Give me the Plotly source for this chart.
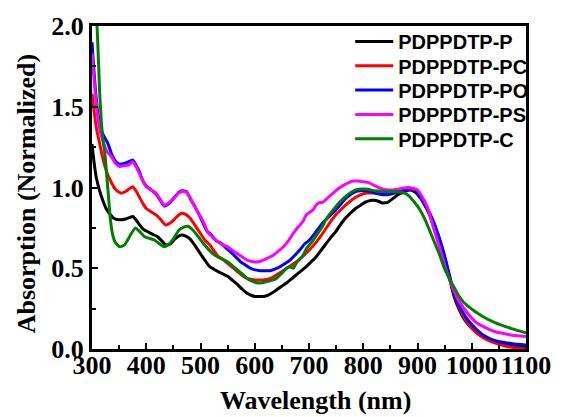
import plotly.graph_objects as go

# ---- data ----
names = ["PDPPDTP-P", "PDPPDTP-PC", "PDPPDTP-PO", "PDPPDTP-PS", "PDPPDTP-C"]
colors = ["#000000", "#ff0000", "#0000ff", "#ff00ff", "#008000"]

wl_P = [300, 304, 308, 314, 320, 326, 332, 340, 350, 362, 370, 375, 381, 388, 395, 403, 412, 421, 430, 436,
        444, 451, 460, 466, 472, 481, 490, 499, 508, 517, 532, 550, 559, 568, 577, 586, 595, 604, 613, 622,
        631, 640, 650, 659, 668, 677, 686, 695, 704, 713, 722, 731, 740, 749, 758, 767, 776, 786, 795, 804,
        813, 822, 828, 834, 840, 846, 852, 858, 864, 870, 876, 885, 894, 903, 912, 921, 930, 940, 949, 958,
        967, 976, 985, 994, 1003, 1012, 1021, 1033, 1045, 1060, 1075, 1100]
abs_P = [1.27, 1.15, 1.06, 0.98, 0.92, 0.87, 0.84, 0.81, 0.80, 0.805, 0.815, 0.82, 0.80, 0.768, 0.74, 0.726, 0.71, 0.695, 0.665, 0.644,
         0.65, 0.675, 0.70, 0.706, 0.70, 0.68, 0.64, 0.594, 0.55, 0.51, 0.48, 0.45, 0.425, 0.40, 0.37, 0.345, 0.33, 0.325, 0.325, 0.33,
         0.345, 0.365, 0.39, 0.41, 0.435, 0.46, 0.485, 0.51, 0.54, 0.57, 0.61, 0.65, 0.69, 0.725, 0.77, 0.81, 0.84, 0.87, 0.89, 0.91,
         0.92, 0.92, 0.915, 0.905, 0.905, 0.91, 0.925, 0.94, 0.955, 0.965, 0.975, 0.985, 0.975, 0.945, 0.90, 0.84, 0.76, 0.67, 0.575, 0.45,
         0.33, 0.25, 0.19, 0.15, 0.12, 0.095, 0.075, 0.055, 0.04, 0.03, 0.02, 0.01]

wl_PC = [300, 304, 308, 313, 318, 324, 330, 336, 342, 348, 354, 362, 370, 375, 381, 387, 394, 400, 409, 418,
         427, 436, 444, 451, 460, 466, 472, 481, 490, 499, 508, 517, 532, 541, 550, 559, 568, 577, 586, 595,
         604, 613, 622, 631, 640, 650, 659, 668, 677, 686, 695, 704, 713, 722, 731, 740, 749, 758, 767, 776,
         786, 795, 804, 822, 840, 858, 876, 890, 900, 912, 921, 930, 940, 949, 958, 967, 976, 985, 994, 1003,
         1012, 1021, 1033, 1045, 1060, 1075, 1100]
abs_PC = [1.58, 1.47, 1.37, 1.29, 1.21, 1.13, 1.07, 1.03, 0.995, 0.975, 0.965, 0.975, 0.995, 1.005, 0.98, 0.943, 0.90, 0.87, 0.85, 0.83,
          0.80, 0.768, 0.78, 0.80, 0.83, 0.84, 0.835, 0.81, 0.765, 0.72, 0.675, 0.645, 0.575, 0.555, 0.53, 0.505, 0.48, 0.455, 0.437, 0.43,
          0.427, 0.427, 0.43, 0.44, 0.458, 0.48, 0.50, 0.52, 0.54, 0.565, 0.595, 0.625, 0.66, 0.70, 0.745, 0.79, 0.83, 0.86, 0.89, 0.915,
          0.94, 0.955, 0.965, 0.965, 0.965, 0.975, 0.985, 0.99, 0.975, 0.915, 0.85, 0.775, 0.68, 0.58, 0.46, 0.345, 0.265, 0.20, 0.155, 0.12,
          0.09, 0.07, 0.05, 0.035, 0.02, 0.01, 0.0]

wl_PO = [300, 303, 306, 310, 314, 320, 329, 337, 347, 355, 365, 375, 381, 387, 394, 400, 409, 418, 426, 433,
         442, 451, 460, 466, 474, 483, 490, 502, 511, 520, 529, 538, 547, 556, 565, 574, 583, 592, 601, 610,
         619, 628, 637, 647, 656, 665, 674, 683, 692, 701, 713, 725, 731, 740, 749, 758, 767, 776, 786, 795,
         804, 813, 822, 831, 840, 849, 858, 867, 876, 885, 894, 903, 912, 921, 930, 940, 949, 958, 967, 976,
         985, 994, 1003, 1012, 1021, 1033, 1045, 1060, 1075, 1100]
abs_PO = [1.90, 1.75, 1.62, 1.48, 1.40, 1.33, 1.275, 1.20, 1.15, 1.145, 1.155, 1.17, 1.14, 1.10, 1.04, 1.01, 0.985, 0.96, 0.92, 0.885,
          0.90, 0.935, 0.97, 0.98, 0.975, 0.92, 0.88, 0.80, 0.735, 0.705, 0.67, 0.655, 0.625, 0.60, 0.57, 0.54, 0.52, 0.50, 0.49, 0.485,
          0.485, 0.485, 0.495, 0.51, 0.53, 0.55, 0.58, 0.613, 0.65, 0.675, 0.726, 0.78, 0.80, 0.83, 0.86, 0.895, 0.93, 0.955, 0.975, 0.98,
          0.98, 0.975, 0.965, 0.958, 0.955, 0.958, 0.965, 0.975, 0.985, 0.99, 0.99, 0.96, 0.90, 0.85, 0.785, 0.69, 0.59, 0.47, 0.35, 0.275,
          0.22, 0.175, 0.14, 0.11, 0.087, 0.065, 0.05, 0.04, 0.033, 0.025]

wl_PS = [300, 303, 306, 310, 315, 320, 326, 331, 336, 343, 351, 360, 368, 375, 381, 387, 394, 400, 409, 418,
         426, 433, 442, 451, 460, 466, 474, 481, 490, 496, 505, 514, 523, 532, 541, 550, 559, 568, 577, 586,
         598, 607, 616, 625, 634, 643, 653, 662, 671, 680, 689, 695, 707, 713, 719, 725, 731, 737, 746, 755,
         764, 773, 782, 792, 801, 810, 819, 828, 837, 846, 855, 864, 873, 882, 891, 900, 909, 918, 930, 942,
         949, 958, 967, 976, 985, 994, 1003, 1012, 1021, 1033, 1045, 1060, 1075, 1100]
abs_PS = [1.83, 1.70, 1.585, 1.45, 1.35, 1.29, 1.23, 1.21, 1.19, 1.15, 1.13, 1.135, 1.14, 1.16, 1.13, 1.09, 1.04, 1.005, 0.985, 0.965,
          0.925, 0.89, 0.905, 0.935, 0.965, 0.975, 0.97, 0.935, 0.88, 0.84, 0.79, 0.72, 0.69, 0.665, 0.645, 0.633, 0.61, 0.59, 0.57, 0.55,
          0.54, 0.54, 0.55, 0.565, 0.58, 0.605, 0.633, 0.67, 0.716, 0.755, 0.79, 0.83, 0.86, 0.89, 0.906, 0.908, 0.925, 0.943, 0.97, 0.995,
          1.015, 1.03, 1.04, 1.04, 1.035, 1.03, 1.015, 1.0, 0.99, 0.985, 0.985, 0.99, 0.995, 1.0, 0.995, 0.985, 0.94, 0.88, 0.745, 0.613,
          0.53, 0.44, 0.365, 0.30, 0.255, 0.215, 0.18, 0.155, 0.14, 0.12, 0.105, 0.095, 0.085, 0.078]

wl_C = [300, 305, 310, 314, 317, 320, 324, 327, 330, 334, 338, 343, 351, 360, 370, 380, 390, 397, 415, 425,
        433, 442, 451, 460, 469, 477, 485, 496, 505, 514, 523, 532, 541, 550, 559, 568, 577, 586, 595, 604,
        613, 622, 631, 640, 647, 653, 659, 665, 671, 677, 689, 695, 707, 713, 725, 731, 749, 767, 786, 804,
        822, 840, 858, 876, 885, 894, 903, 912, 921, 930, 940, 949, 958, 967, 976, 985, 1003, 1021, 1045, 1075,
        1100]
abs_C = [2.5, 2.25, 1.95, 1.6, 1.42, 1.3, 1.2, 1.08, 0.96, 0.80, 0.71, 0.66, 0.633, 0.645, 0.70, 0.75, 0.72, 0.695, 0.675, 0.65,
         0.633, 0.65, 0.687, 0.735, 0.755, 0.76, 0.74, 0.695, 0.655, 0.62, 0.59, 0.57, 0.555, 0.54, 0.515, 0.49, 0.465, 0.437, 0.42, 0.41,
         0.41, 0.417, 0.425, 0.437, 0.46, 0.48, 0.50, 0.51, 0.50, 0.535, 0.58, 0.62, 0.67, 0.70, 0.76, 0.80, 0.88, 0.943, 0.985, 0.99,
         0.98, 0.975, 0.975, 0.965, 0.945, 0.91, 0.87, 0.815, 0.745, 0.67, 0.59, 0.505, 0.44, 0.385, 0.33, 0.29, 0.24, 0.20, 0.16, 0.125,
         0.10]

x_ticks = [300, 400, 500, 600, 700, 800, 900, 1000, 1100]
x_tick_labels = ["300", "400", "500", "600", "700", "800", "900", "1000", "1100"]
y_ticks = [0.0, 0.5, 1.0, 1.5, 2.0]
y_tick_labels = ["0.0", "0.5", "1.0", "1.5", "2.0"]
x_title = "Wavelength (nm)"
y_title = "Absorption (Normalized)"

series = [(wl_P, abs_P), (wl_PC, abs_PC), (wl_PO, abs_PO), (wl_PS, abs_PS), (wl_C, abs_C)]
legend_ids = ["legend", "legend2", "legend3", "legend4", "legend5"]
legend_rows = [0.952, 0.877, 0.802, 0.726, 0.651]

fig = go.Figure()
for (xs, ys), name, col, lid in zip(series, names, colors, legend_ids):
    fig.add_trace(go.Scatter(x=xs, y=ys, mode="lines", name=name, legend=lid,
                             line=dict(color=col, width=3, shape="spline", smoothing=0.5)))

serif = dict(family="Liberation Serif, Times New Roman, serif", size=26, color="black", weight="bold")
sans = dict(family="Liberation Sans, Arial, sans-serif", size=20, color="black", weight="bold")

legend_layout = {}
for lid, ry in zip(legend_ids, legend_rows):
    legend_layout[lid] = dict(x=0.595, y=ry, xanchor="left", yanchor="middle",
                              bgcolor="rgba(0,0,0,0)", borderwidth=0, font=sans,
                              itemwidth=38)

fig.update_layout(
    width=563, height=417,
    margin=dict(l=92, r=30, t=26, b=68),
    paper_bgcolor="white", plot_bgcolor="white",
    showlegend=True,
    xaxis=dict(range=[300, 1100], tickvals=x_ticks, ticktext=x_tick_labels,
               ticks="inside", ticklen=6, tickwidth=2, tickcolor="black",
               minor=dict(dtick=50, ticks="inside", ticklen=4, tickwidth=2, tickcolor="black"),
               showline=True, linewidth=3, linecolor="black", mirror=True,
               showgrid=False, zeroline=False, tickfont=serif, ticklabelstandoff=-9),
    yaxis=dict(range=[0, 2.0], tickvals=y_ticks, ticktext=y_tick_labels,
               ticks="inside", ticklen=6, tickwidth=2, tickcolor="black",
               minor=dict(dtick=0.25, ticks="inside", ticklen=4, tickwidth=2, tickcolor="black"),
               showline=True, linewidth=3, linecolor="black", mirror=True,
               showgrid=False, zeroline=False, tickfont=serif),
    annotations=[
        dict(text=x_title, xref="paper", yref="paper", x=0.514, y=-0.16,
             xanchor="center", yanchor="middle", showarrow=False, font=serif),
        dict(text=y_title, xref="paper", yref="paper", x=-0.149, y=0.48,
             xanchor="center", yanchor="middle", textangle=-90, showarrow=False, font=serif),
    ],
    **legend_layout,
)

fig.write_html("out.html")
